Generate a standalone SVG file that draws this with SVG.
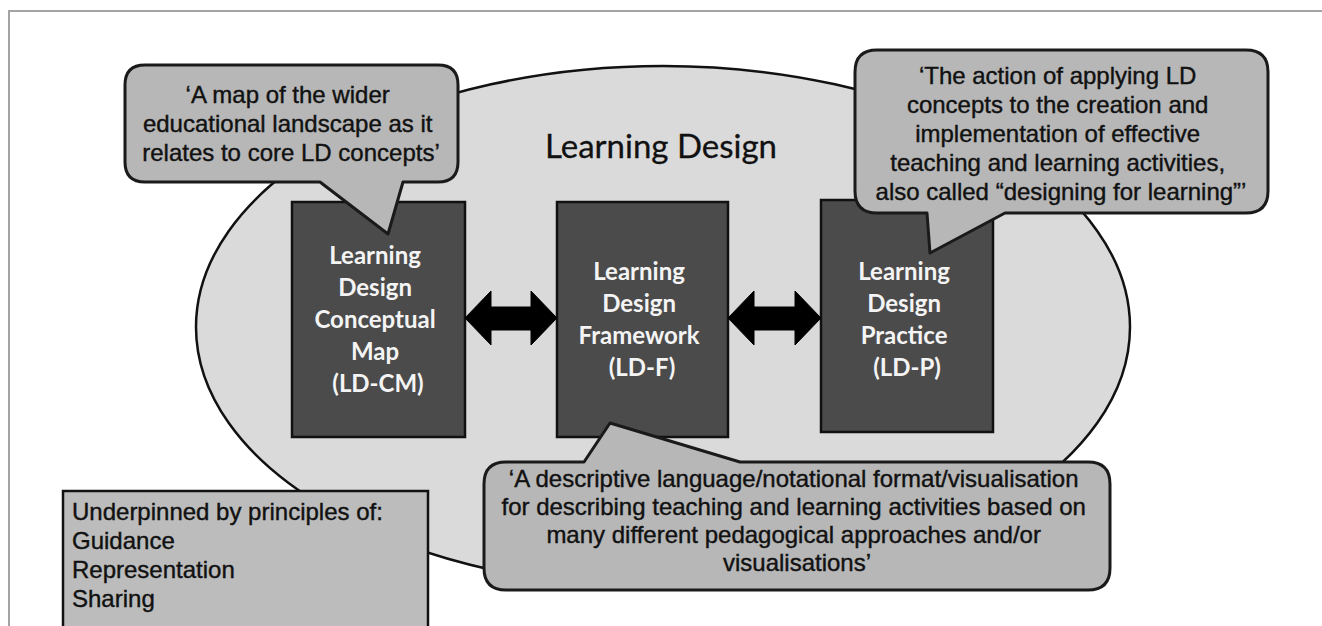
<svg xmlns="http://www.w3.org/2000/svg" width="1322" height="626" viewBox="0 0 1322 626">
  <style>
    .frame { stroke: #a3a3a3; stroke-width: 2; fill: none; }
    .box { fill: #4b4b4b; stroke: #111; stroke-width: 2.5; }
    .boxtext { font-family: Lato, "Open Sans", sans-serif; font-weight: bold; font-size: 24px; fill: #f4f4f4; text-anchor: middle; }
    .callout { fill: #b7b7b7; stroke: #1a1a1a; stroke-width: 3; stroke-linejoin: round; }
    .ctext { font-family: "Liberation Sans", Arial, sans-serif; font-size: 24px; fill: #111; stroke: #111; stroke-width: 0.4; text-anchor: middle; }
    .ltext { font-family: "Liberation Sans", Arial, sans-serif; font-size: 24px; fill: #111; stroke: #111; stroke-width: 0.4; }
    .arrow { fill: #000; stroke: #000; stroke-width: 1; stroke-linejoin: miter; }
  </style>
  <rect width="1322" height="626" fill="#ffffff"/>
  <g id="frame">
    <path class="frame" d="M9,626 V11 H1322"/>
  </g>
  <g id="learning-design">
    <ellipse cx="663" cy="327" rx="467" ry="261" fill="#dadada" stroke="#111" stroke-width="2.5"/>
    <text x="661" y="158" font-family="Lato, 'Open Sans', sans-serif" font-size="33" fill="#111" stroke="#111" stroke-width="0.3" text-anchor="middle">Learning Design</text>
  </g>
  <g id="ld-cm">
    <rect class="box" x="292" y="202" width="173" height="235"/>
    <text class="boxtext">
      <tspan x="378" y="264">Learning</tspan>
      <tspan x="378" y="296">Design</tspan>
      <tspan x="378" y="328">Conceptual</tspan>
      <tspan x="378" y="360">Map</tspan>
      <tspan x="378" y="392">(LD-CM)</tspan>
    </text>
  </g>
  <g id="ld-f">
    <rect class="box" x="557" y="202" width="171" height="235"/>
    <text class="boxtext">
      <tspan x="642" y="280">Learning</tspan>
      <tspan x="642" y="312">Design</tspan>
      <tspan x="642" y="344">Framework</tspan>
      <tspan x="642" y="376">(LD-F)</tspan>
    </text>
  </g>
  <g id="ld-p">
    <rect class="box" x="821" y="200" width="172" height="232"/>
    <text class="boxtext">
      <tspan x="907" y="280">Learning</tspan>
      <tspan x="907" y="312">Design</tspan>
      <tspan x="907" y="344">Practice</tspan>
      <tspan x="907" y="376">(LD-P)</tspan>
    </text>
  </g>
  <g id="connectors">
    <path class="arrow" d="M465,318 L491,291 V307 H531 V291 L557,318 L531,345 V330 H491 V345 Z"/>
    <path class="arrow" d="M728,318 L754,291 V307 H795 V291 L821,318 L795,345 V330 H754 V345 Z"/>
  </g>
  <g id="callout-ld-cm">
    <path class="callout" d="M145,65 H438 Q458,65 458,85 V162 Q458,182 438,182 H403 L388,234 L320,182 H145 Q125,182 125,162 V85 Q125,65 145,65 Z"/>
    <text class="ctext">
      <tspan x="291" y="103">‘A map of the wider</tspan>
      <tspan x="291" y="132">educational landscape as it</tspan>
      <tspan x="291" y="161">relates to core LD concepts’</tspan>
    </text>
  </g>
  <g id="callout-ld-p">
    <path class="callout" d="M877,50 H1246 Q1268,50 1268,72 V191 Q1268,213 1246,213 H1005 L930,253 L927,213 H877 Q855,213 855,191 V72 Q855,50 877,50 Z"/>
    <text class="ctext">
      <tspan x="1061" y="84">‘The action of applying LD</tspan>
      <tspan x="1061" y="113">concepts to the creation and</tspan>
      <tspan x="1061" y="142">implementation of effective</tspan>
      <tspan x="1061" y="171">teaching and learning activities,</tspan>
      <tspan x="1061" y="200">also called “designing for learning”’</tspan>
    </text>
  </g>
  <g id="callout-ld-f">
    <path class="callout" d="M506,462 H584 L610,423 L740,462 H1088 Q1110,462 1110,484 V568 Q1110,590 1088,590 H506 Q484,590 484,568 V484 Q484,462 506,462 Z"/>
    <text class="ctext">
      <tspan x="797" y="487">‘A descriptive language/notational format/visualisation</tspan>
      <tspan x="797" y="515">for describing teaching and learning activities based on</tspan>
      <tspan x="797" y="543">many different pedagogical approaches and/or</tspan>
      <tspan x="797" y="571">visualisations’</tspan>
    </text>
  </g>
  <g id="principles">
    <rect x="63" y="491" width="365" height="160" fill="#bcbcbc" stroke="#111" stroke-width="2.5"/>
    <text class="ltext">
      <tspan x="72" y="520">Underpinned by principles of:</tspan>
      <tspan x="72" y="549">Guidance</tspan>
      <tspan x="72" y="578">Representation</tspan>
      <tspan x="72" y="607">Sharing</tspan>
    </text>
  </g>
</svg>
